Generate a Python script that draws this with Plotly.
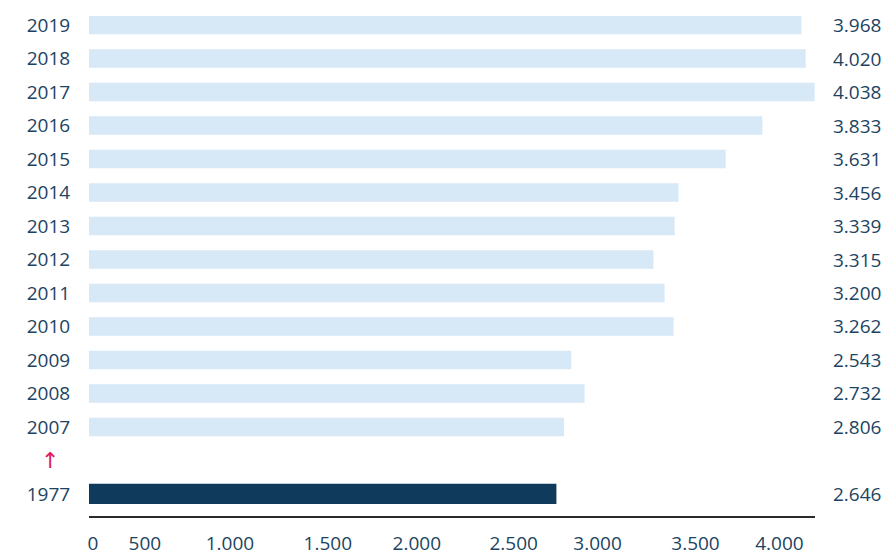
import plotly.graph_objects as go

# Data
years = ["2019", "2018", "2017", "2016", "2015", "2014", "2013", "2012",
         "2011", "2010", "2009", "2008", "2007", "1977"]
value_labels = ["3.968", "4.020", "4.038", "3.833", "3.631", "3.456", "3.339",
                "3.315", "3.200", "3.262", "2.543", "2.732", "2.806", "2.646"]
# bar lengths as drawn in the reference (estimated in axis units)
bar_lengths = [3964, 3988, 4038, 3747, 3543, 3281, 3259, 3141,
               3203, 3253, 2684, 2758, 2643, 2601]
# x tick labels and where they sit on the drawn axis
tick_labels = ["0", "500", "1.000", "1.500", "2.000", "2.500", "3.000", "3.500", "4.000"]
tick_positions = [22, 311, 784, 1329, 1824, 2363, 2830, 3375, 3842]

GAP = " "
LIGHT = "#d7e8f7"
DARK = "#0f3a5c"
TEXT = "#1c4462"
PINK = "#e0195a"
FONT = "Open Sans"

# category order bottom -> top
cats = ["1977", GAP] + years[:-1][::-1]

light_years = years[:-1]
light_vals = bar_lengths[:-1]

fig = go.Figure()
fig.add_trace(go.Bar(
    y=light_years, x=light_vals, orientation="h",
    marker=dict(color=LIGHT, line=dict(width=0)), width=0.55,
    hoverinfo="skip", showlegend=False))
fig.add_trace(go.Bar(
    y=[years[-1]], x=[bar_lengths[-1]], orientation="h",
    marker=dict(color=DARK, line=dict(width=0)), width=0.6,
    hoverinfo="skip", showlegend=False))

for y, lab in zip(years, value_labels):
    fig.add_annotation(x=1.0227, xref="paper", y=cats.index(y), yref="y", text=lab,
                       showarrow=False, xanchor="left", yanchor="middle",
                       font=dict(family=FONT, size=19, color=TEXT))

fig.add_annotation(x=-0.0537, xref="paper", y=cats.index(GAP), yref="y", text="↑",
                   showarrow=False, xanchor="center", yanchor="middle",
                   font=dict(family="DejaVu Sans", size=22, color=PINK))

fig.update_layout(
    width=890, height=555,
    margin=dict(l=89, r=74.5, t=5, b=39, autoexpand=False),
    paper_bgcolor="white", plot_bgcolor="white",
    font=dict(family=FONT, size=19, color=TEXT),
    barmode="overlay",
    xaxis=dict(range=[0, 4040], tickvals=tick_positions, ticktext=tick_labels,
               showgrid=False, zeroline=False, showline=True, linecolor="#2b2b2b",
               linewidth=2, ticks="outside", ticklen=9, tickcolor="rgba(0,0,0,0)",
               tickfont=dict(family=FONT, size=19, color=TEXT), fixedrange=True,
               automargin=False),
    yaxis=dict(type="category", categoryorder="array", categoryarray=cats,
               tickvals=cats, ticktext=[c if c != GAP else "" for c in cats],
               range=[-0.66, 14.6], showgrid=False, zeroline=False, showline=False,
               ticks="outside", ticklen=14, tickcolor="rgba(0,0,0,0)",
               tickfont=dict(family=FONT, size=19, color=TEXT), fixedrange=True,
               automargin=False),
)

fig.write_html("out.html")
